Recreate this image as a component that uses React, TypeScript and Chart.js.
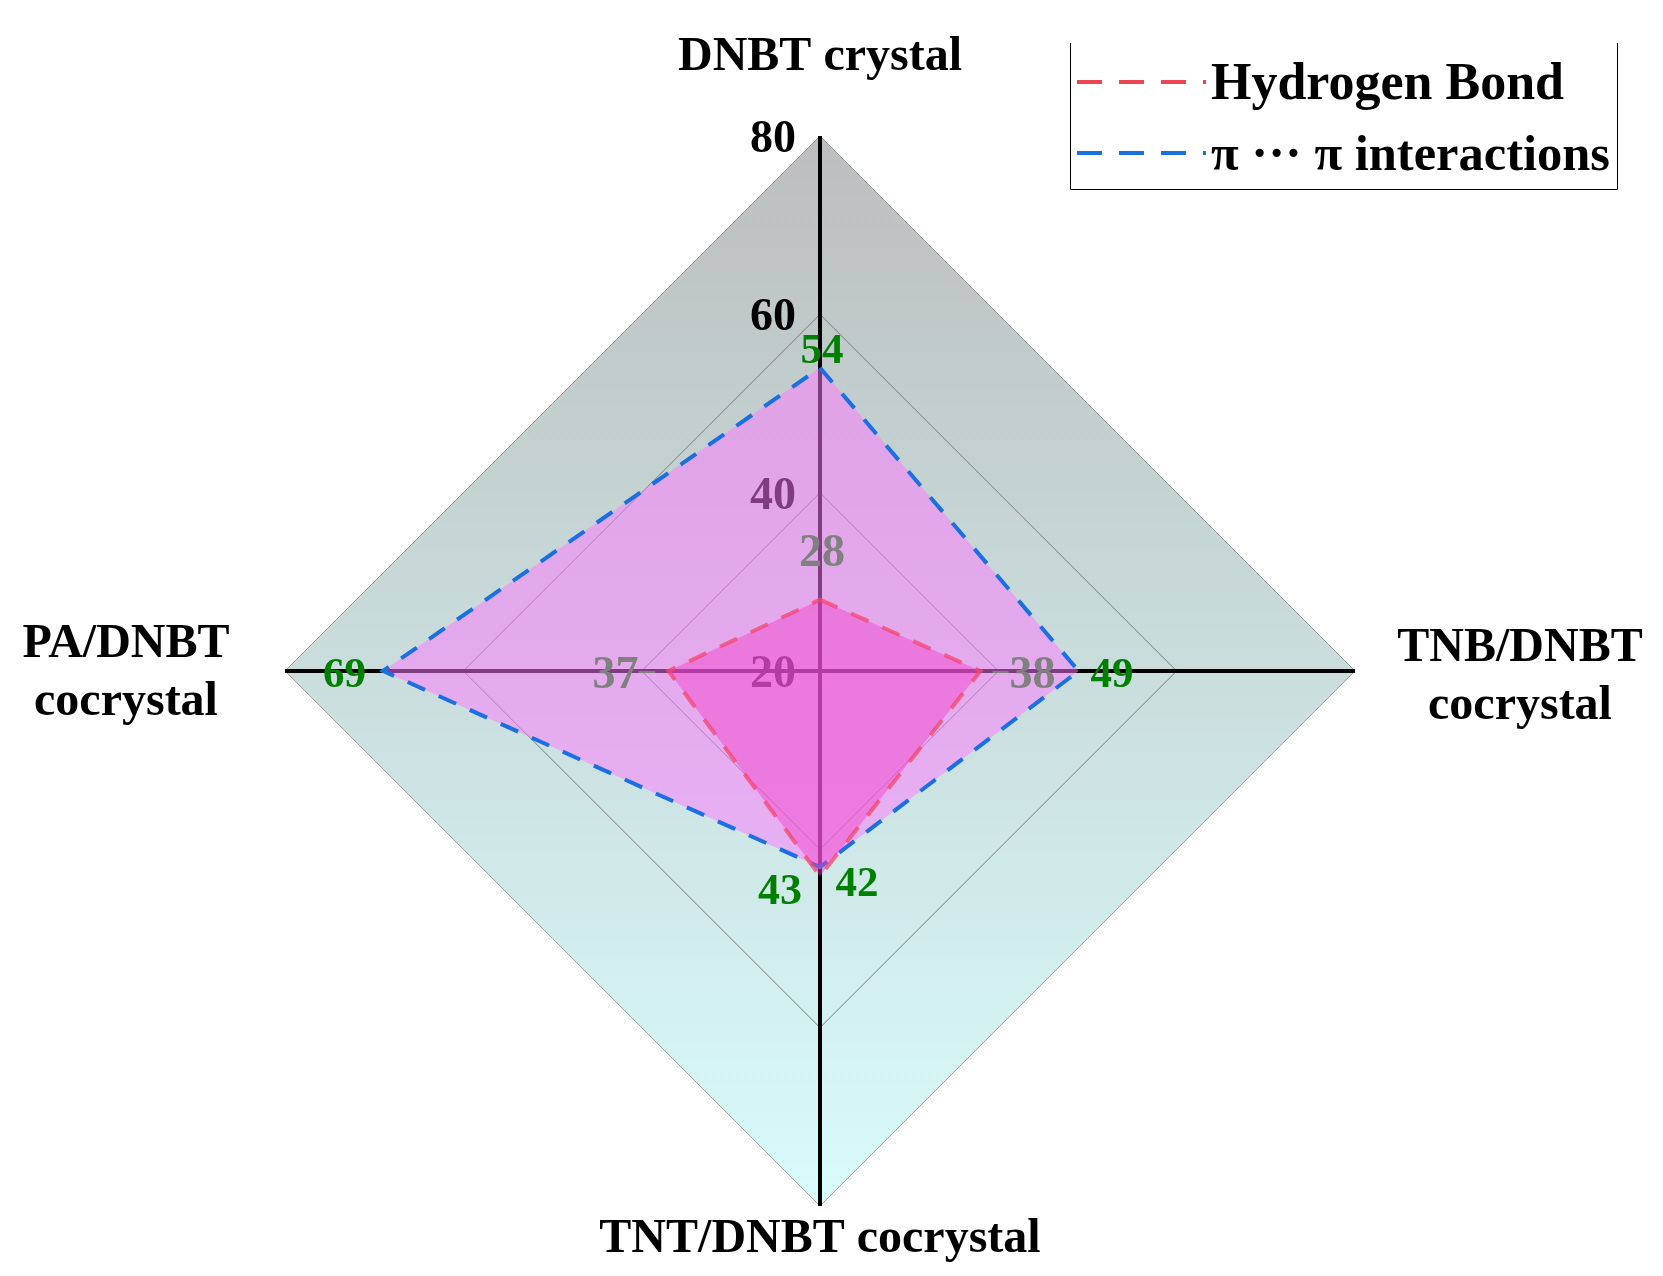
import React, { useEffect, useRef } from 'react';
import { Chart, registerables } from 'chart.js';

Chart.register(...registerables);

// ---- data ----
const categories = ['DNBT crystal', 'TNB/DNBT cocrystal', 'TNT/DNBT cocrystal', 'PA/DNBT cocrystal'];
const categoryLines = [['DNBT crystal'], ['TNB/DNBT', 'cocrystal'], ['TNT/DNBT cocrystal'], ['PA/DNBT', 'cocrystal']];
const hydrogenBond = [28, 38, 43, 37];
const piInteractions = [54, 49, 42, 69];
const tickValues = [20, 40, 60, 80];
const seriesNames = ['Hydrogen Bond', 'π ··· π interactions'];

// ---- styles ----
const FONT = '"Liberation Serif", "Times New Roman", serif';
const GREY = '#808080';
const GREEN = '#008000';
// label placement per dataset per point: [dx, dy, align, color, size, leader(from dx, to dx) | null]
const labelStyle: any[][] = [
  [
    [2, -34, 'center', GREY, 46, null],
    [29, 17, 'left', GREY, 46, [12, 28]],
    [-40, 28, 'center', GREEN, 44, null],
    [-30, 17, 'right', GREY, 46, [-30, -13]],
  ],
  [
    [2, -5, 'center', GREEN, 43, null],
    [12, 16, 'left', GREEN, 43, null],
    [37, 29, 'center', GREEN, 43, null],
    [-17, 16, 'right', GREEN, 43, null],
  ],
];
const legendColors = ['#ec4450', '#1a70e2'];
const legendFontSizes = [52, 50.5];

const overlayPlugin = {
  id: 'overlay',
  beforeDraw(chart: any) {
    const s = chart.scales.r;
    const ctx = chart.ctx;
    const max = tickValues[tickValues.length - 1];
    ctx.save();
    const top = s.getPointPositionForValue(0, max);
    const bottom = s.getPointPositionForValue(2, max);
    const g = ctx.createLinearGradient(0, top.y, 0, bottom.y);
    g.addColorStop(0, '#bbbebe');
    g.addColorStop(1, '#d9fcfc');
    ctx.beginPath();
    for (let i = 0; i < categories.length; i++) {
      const p = s.getPointPositionForValue(i, max);
      if (i === 0) ctx.moveTo(p.x, p.y);
      else ctx.lineTo(p.x, p.y);
    }
    ctx.closePath();
    ctx.fillStyle = g;
    ctx.fill();
    ctx.restore();
  },
  beforeDatasetsDraw(chart: any) {
    const s = chart.scales.r;
    const ctx = chart.ctx;
    ctx.save();
    ctx.font = `bold 46px ${FONT}`;
    ctx.fillStyle = '#000';
    ctx.textAlign = 'right';
    ctx.textBaseline = 'alphabetic';
    tickValues.forEach((v) => {
      const d = s.getDistanceFromCenterForValue(v);
      ctx.fillText(String(v), s.xCenter - 24, s.yCenter - d + 16);
    });
    // category labels
    ctx.font = `bold 48px ${FONT}`;
    ctx.textAlign = 'center';
    const r = s.drawingArea;
    const pos = [
      { x: s.xCenter, y: s.yCenter - r - 66 },
      { x: s.xCenter + r + 165, y: s.yCenter - 10 },
      { x: s.xCenter, y: s.yCenter + r + 46 },
      { x: s.xCenter - r - 159, y: s.yCenter - 14 },
    ];
    categoryLines.forEach((lines, i) => {
      lines.forEach((ln, j) => {
        ctx.fillText(ln, pos[i].x, pos[i].y + j * 58);
      });
    });
    ctx.restore();
  },
  afterDatasetsDraw(chart: any) {
    const s = chart.scales.r;
    const ctx = chart.ctx;
    ctx.save();
    ctx.textBaseline = 'alphabetic';
    chart.data.datasets.forEach((ds: any, di: number) => {
      ds.data.forEach((v: number, i: number) => {
        const p = s.getPointPositionForValue(i, v);
        const [dx, dy, align, color, size, leader] = labelStyle[di][i];
        if (leader) {
          ctx.strokeStyle = color;
          ctx.lineWidth = 2;
          ctx.beginPath();
          ctx.moveTo(p.x + leader[0], p.y + 1);
          ctx.lineTo(p.x + leader[1], p.y + 1);
          ctx.stroke();
        }
        ctx.font = `bold ${size}px ${FONT}`;
        ctx.fillStyle = color;
        ctx.textAlign = align;
        ctx.fillText(String(v), p.x + dx, p.y + dy);
      });
    });
    ctx.restore();
  },
  afterDraw(chart: any) {
    const ctx = chart.ctx;
    ctx.save();
    // legend frame (top edge open)
    ctx.strokeStyle = '#000';
    ctx.lineWidth = 1;
    ctx.beginPath();
    ctx.moveTo(1070.5, 43);
    ctx.lineTo(1070.5, 189.5);
    ctx.lineTo(1617.5, 189.5);
    ctx.lineTo(1617.5, 43);
    ctx.stroke();
    const rows = [82, 153];
    ctx.textAlign = 'left';
    ctx.textBaseline = 'alphabetic';
    seriesNames.forEach((name, i) => {
      ctx.strokeStyle = legendColors[i];
      ctx.lineWidth = 4;
      ctx.lineCap = 'butt';
      ctx.setLineDash([25, 17]);
      ctx.beginPath();
      ctx.moveTo(1077, rows[i]);
      ctx.lineTo(1206, rows[i]);
      ctx.stroke();
      ctx.setLineDash([]);
      ctx.font = `bold ${legendFontSizes[i]}px ${FONT}`;
      ctx.fillStyle = '#000';
      ctx.fillText(name, 1211, rows[i] + 17);
    });
    ctx.restore();
  },
};

export default function App() {
  const ref = useRef<HTMLCanvasElement | null>(null);
  useEffect(() => {
    if (!ref.current) return;
    const chart = new Chart(ref.current, {
      type: 'radar',
      data: {
        labels: categories,
        datasets: [
          {
            label: seriesNames[0],
            data: hydrogenBond,
            fill: true,
            backgroundColor: 'rgba(244,60,200,0.45)',
            borderColor: 'rgba(245,70,110,0.75)',
            borderWidth: 4,
            borderDash: [19, 15],
            pointRadius: 0,
            pointHoverRadius: 0,
          },
          {
            label: seriesNames[1],
            data: piInteractions,
            fill: true,
            backgroundColor: 'rgba(255,120,255,0.5)',
            borderColor: '#1a70e2',
            borderWidth: 4,
            borderDash: [19, 15],
            pointRadius: 0,
            pointHoverRadius: 0,
          },
        ],
      },
      options: {
        responsive: false,
        animation: false,
        devicePixelRatio: 1,
        layout: { padding: { left: 285, right: 308, top: 136, bottom: 70 } },
        plugins: { legend: { display: false }, tooltip: { enabled: false }, title: { display: false } },
        scales: {
          r: {
            min: tickValues[0],
            max: tickValues[tickValues.length - 1],
            ticks: { display: false, stepSize: 20 },
            pointLabels: { display: false },
            grid: {
              color: (c: any) => (c.index === tickValues.length - 1 ? '#a0a0a0' : '#7a7a7a'),
              lineWidth: 1,
            },
            angleLines: { color: '#000', lineWidth: 4 },
          },
        },
      },
      plugins: [overlayPlugin],
    });
    return () => chart.destroy();
  }, []);
  return (
    <div style={{ position: 'absolute', left: 0, top: 0, width: 1663, height: 1276, background: '#fff' }}>
      <canvas ref={ref} width={1663} height={1276} style={{ display: 'block' }} />
    </div>
  );
}
